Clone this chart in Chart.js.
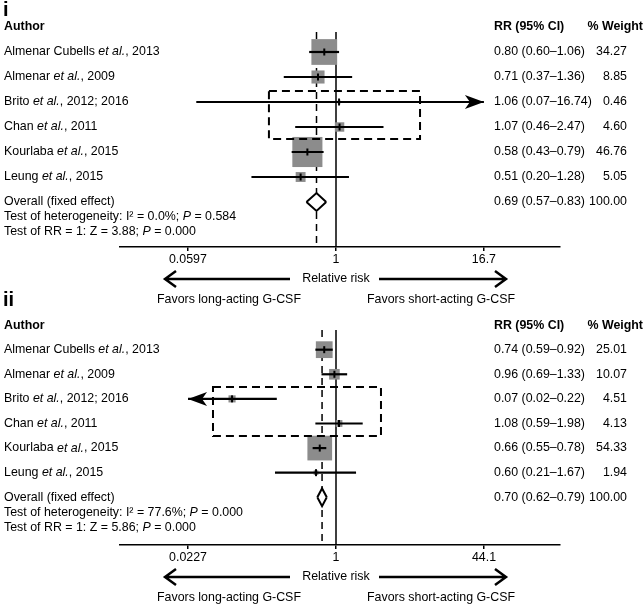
<!DOCTYPE html>
<html>
<head>
<meta charset="utf-8">
<script src="https://cdn.jsdelivr.net/npm/chart.js@4.4.1/dist/chart.umd.min.js"></script>
<style>
  body { margin: 0; background: #fff; }
  #wrap { position: relative; width: 644px; height: 605px; }
  canvas { position: absolute; left: 0; }
</style>
</head>
<body>
<div id="wrap">
  <canvas id="panelA" width="644" height="310" style="top:0px"></canvas>
  <canvas id="panelB" width="644" height="320" style="top:285px"></canvas>
</div>
<script>
const studies = [
  "Almenar Cubells et al., 2013",
  "Almenar et al., 2009",
  "Brito et al., 2012; 2016",
  "Chan et al., 2011",
  "Kourlaba et al., 2015",
  "Leung et al., 2015"
];

// panel i
const rrA = [0.80, 0.71, 1.06, 1.07, 0.58, 0.51];
const loA = [0.60, 0.37, 0.07, 0.46, 0.43, 0.20];
const hiA = [1.06, 1.36, 16.74, 2.47, 0.79, 1.28];
const weightA = [34.27, 8.85, 0.46, 4.60, 46.76, 5.05];
const overallA = [0.69, 0.57, 0.83];
const ticksA = [0.0597, 1, 16.7];
const testsA = ["0.0%", "0.584", "3.88", "0.000"];

// panel ii
const rrB = [0.74, 0.96, 0.07, 1.08, 0.66, 0.60];
const loB = [0.59, 0.69, 0.02, 0.59, 0.55, 0.21];
const hiB = [0.92, 1.33, 0.22, 1.98, 0.78, 1.67];
const weightB = [25.01, 10.07, 4.51, 4.13, 54.33, 1.94];
const overallB = [0.70, 0.62, 0.79];
const ticksB = [0.0227, 1, 44.1];
const testsB = ["77.6%", "0.000", "5.86", "0.000"];

const FAMILY = '"Liberation Sans", Arial, Helvetica, sans-serif';
const SIZE = 12.4;

function fontFor(style, size) {
  size = size || SIZE;
  if (style === "b") return "bold " + size + "px " + FAMILY;
  if (style === "i") return "italic " + size + "px " + FAMILY;
  return size + "px " + FAMILY;
}

function richText(ctx, x, y, parts, align) {
  let w = 0;
  parts.forEach((p) => { ctx.font = fontFor(p[1]); w += ctx.measureText(p[0]).width; });
  let cx = align === "right" ? x - w : align === "center" ? x - w / 2 : x;
  ctx.textAlign = "left";
  parts.forEach((p) => {
    ctx.font = fontFor(p[1]);
    ctx.fillText(p[0], cx, y);
    cx += ctx.measureText(p[0]).width;
  });
}

function studyParts(name) {
  const bits = name.split("et al.");
  return [[bits[0], ""], ["et al.", "i"], [bits[1], ""]];
}

function ciText(r, l, h) {
  return r.toFixed(2) + " (" + l.toFixed(2) + "\u2013" + h.toFixed(2) + ")";
}

function stealth(ctx, tx, ty, dir) {
  ctx.beginPath();
  ctx.moveTo(tx, ty);
  ctx.lineTo(tx - dir * 19, ty - 7);
  ctx.lineTo(tx - dir * 14, ty);
  ctx.lineTo(tx - dir * 19, ty + 7);
  ctx.closePath();
  ctx.fill();
}

function chevronLine(ctx, x1, x2, y) {
  const dir = x2 > x1 ? 1 : -1;
  ctx.beginPath();
  ctx.moveTo(x1, y);
  ctx.lineTo(x2, y);
  ctx.moveTo(x2 - dir * 11, y - 8);
  ctx.lineTo(x2, y);
  ctx.lineTo(x2 - dir * 11, y + 8);
  ctx.stroke();
}

const panels = [
  { id: "panelA", tag: "i", tagY: 16, rr: rrA, lo: loA, hi: hiA, weight: weightA,
    overall: overallA, ticks: ticksA, tests: testsA,
    top: 32, yMax: 8.8, axisH: 63, k: 4.4,
    box: { x: [0.279, 4.95], y: [2.56, 4.48] } },
  { id: "panelB", tag: "ii", tagY: 21, rr: rrB, lo: loB, hi: hiB, weight: weightB,
    overall: overallB, ticks: ticksB, tests: testsB,
    top: 45, yMax: 8.94, axisH: 60, k: 3.35,
    box: { x: [0.043, 3.16], y: [2.52, 4.51] } }
];

function createForest(p) {
  const yMin = 0.2;
  const rows = studies.map((s, i) => i + 1);
  const overallRow = studies.length + 1;
  const t0 = p.ticks[0], t2 = p.ticks[p.ticks.length - 1];
  const hl = Math.log(t2 / t0) / 2;
  const xMin = Math.exp(-216 / 148 * hl);
  const xMax = Math.exp(224 / 148 * hl);
  const dh = 0.36;

  const datasets = [];

  datasets.push({
    type: "line", data: [{ x: 1, y: yMin }, { x: 1, y: p.yMax }],
    borderColor: "#000", borderWidth: 1.5, pointRadius: 0, showLine: true, order: 7
  });
  datasets.push({
    type: "line", data: [{ x: p.overall[0], y: yMin }, { x: p.overall[0], y: p.yMax }],
    borderColor: "#000", borderWidth: 1.5, borderDash: [7, 5], pointRadius: 0, showLine: true, order: 7
  });
  datasets.push({
    type: "scatter",
    data: rows.map((r, i) => ({ x: p.rr[i], y: r })),
    pointStyle: "rect",
    pointRadius: p.weight.map((w) => p.k * Math.sqrt(w) / Math.SQRT2),
    pointBackgroundColor: "#8c8c8c", pointBorderWidth: 0, borderWidth: 0, order: 5
  });
  rows.forEach((r, i) => {
    datasets.push({
      type: "line",
      data: [{ x: Math.max(p.lo[i], t0), y: r }, { x: Math.min(p.hi[i], t2), y: r }],
      borderColor: "#000", borderWidth: 2.2, pointRadius: 0, showLine: true, order: 4
    });
  });
  datasets.push({
    type: "scatter",
    data: rows.map((r, i) => ({ x: p.rr[i], y: r })),
    pointStyle: "line", rotation: 90, pointRadius: 3.5,
    pointBorderColor: "#000", pointBorderWidth: 2, order: 3
  });
  // overall diamond, as an upper and a lower half filled to the centre row
  [-dh, dh].forEach((d) => {
    datasets.push({
      type: "line",
      data: [
        { x: p.overall[1], y: overallRow },
        { x: p.overall[0], y: overallRow + d },
        { x: p.overall[2], y: overallRow }
      ],
      borderColor: "#000", borderWidth: 2, pointRadius: 0, showLine: true,
      backgroundColor: "#fff", fill: { value: overallRow }, order: 2
    });
  });

  const textPlugin = {
    id: "forestText",
    afterDatasetsDraw(chart) {
      const ctx = chart.ctx;
      const xs = chart.scales.x, ys = chart.scales.y;
      ctx.save();
      ctx.strokeStyle = "#000";
      ctx.lineWidth = 2;
      ctx.setLineDash([8, 5]);
      const bx1 = xs.getPixelForValue(p.box.x[0]), bx2 = xs.getPixelForValue(p.box.x[1]);
      const by1 = ys.getPixelForValue(p.box.y[0]), by2 = ys.getPixelForValue(p.box.y[1]);
      ctx.strokeRect(bx1, by1, bx2 - bx1, by2 - by1);
      ctx.setLineDash([]);
      ctx.fillStyle = "#000";
      rows.forEach((r, i) => {
        const py = ys.getPixelForValue(r);
        if (p.lo[i] < t0) stealth(ctx, xs.getPixelForValue(t0), py, -1);
        if (p.hi[i] > t2) stealth(ctx, xs.getPixelForValue(t2), py, 1);
      });
      ctx.restore();
    },
    afterDraw(chart) {
      const ctx = chart.ctx;
      const xs = chart.scales.x, ys = chart.scales.y;
      const area = chart.chartArea;
      ctx.save();
      ctx.fillStyle = "#000";
      ctx.textBaseline = "alphabetic";
      ctx.font = fontFor("b", 20);
      ctx.fillText(p.tag, 3, p.tagY);
      ctx.textBaseline = "middle";

      const headY = ys.getPixelForValue(0);
      richText(ctx, 4, headY, [["Author", "b"]], "left");
      richText(ctx, 494, headY, [["RR (95% CI)", "b"]], "left");
      richText(ctx, 643, headY, [["% Weight", "b"]], "right");

      rows.forEach((r, i) => {
        const py = ys.getPixelForValue(r);
        richText(ctx, 4, py, studyParts(studies[i]), "left");
        richText(ctx, 494, py, [[ciText(p.rr[i], p.lo[i], p.hi[i]), ""]], "left");
        richText(ctx, 627, py, [[p.weight[i].toFixed(2), ""]], "right");
      });

      const oy = ys.getPixelForValue(overallRow);
      richText(ctx, 4, oy, [["Overall (fixed effect)", ""]], "left");
      richText(ctx, 494, oy, [[ciText(p.overall[0], p.overall[1], p.overall[2]), ""]], "left");
      const total = p.weight.reduce((a, b) => a + b, 0);
      richText(ctx, 627, oy, [[Math.round(total).toFixed(2), ""]], "right");
      richText(ctx, 4, oy + 15, [["Test of heterogeneity: I\u00b2 = " + p.tests[0] + "; ", ""], ["P", "i"], [" = " + p.tests[1], ""]], "left");
      richText(ctx, 4, oy + 30, [["Test of RR = 1: Z = " + p.tests[2] + "; ", ""], ["P", "i"], [" = " + p.tests[3], ""]], "left");

      const cx = xs.getPixelForValue(1);
      const ry = area.bottom + 32;
      ctx.strokeStyle = "#000";
      ctx.lineWidth = 2.5;
      chevronLine(ctx, cx - 46, cx - 171, ry);
      chevronLine(ctx, cx + 43, cx + 170, ry);
      richText(ctx, cx, ry, [["Relative risk", ""]], "center");
      richText(ctx, cx - 107, area.bottom + 53, [["Favors long-acting G-CSF", ""]], "center");
      richText(ctx, cx + 105, area.bottom + 53, [["Favors short-acting G-CSF", ""]], "center");
      ctx.restore();
    }
  };

  return new Chart(document.getElementById(p.id), {
    type: "line",
    data: { datasets: datasets },
    options: {
      responsive: false,
      animation: false,
      events: [],
      layout: { padding: { top: p.top, left: 120, right: 84, bottom: 0 } },
      scales: {
        x: {
          type: "logarithmic",
          min: xMin,
          max: xMax,
          bounds: "data",
          afterBuildTicks: (scale) => { scale.ticks = p.ticks.map((v) => ({ value: v })); },
          afterFit: (scale) => { scale.height = p.axisH; },
          ticks: {
            autoSkip: false,
            maxRotation: 0,
            padding: 1,
            color: "#000",
            font: { family: FAMILY, size: SIZE },
            callback: (v) => String(v)
          },
          grid: { drawOnChartArea: false, drawTicks: true, tickLength: 4, color: "#000", lineWidth: 1.5 },
          border: { display: true, color: "#000", width: 1.5 }
        },
        y: { type: "linear", min: yMin, max: p.yMax, reverse: true, display: false }
      },
      plugins: { legend: { display: false }, tooltip: { enabled: false } }
    },
    plugins: [textPlugin]
  });
}

panels.forEach((p) => createForest(p));
</script>
</body>
</html>
